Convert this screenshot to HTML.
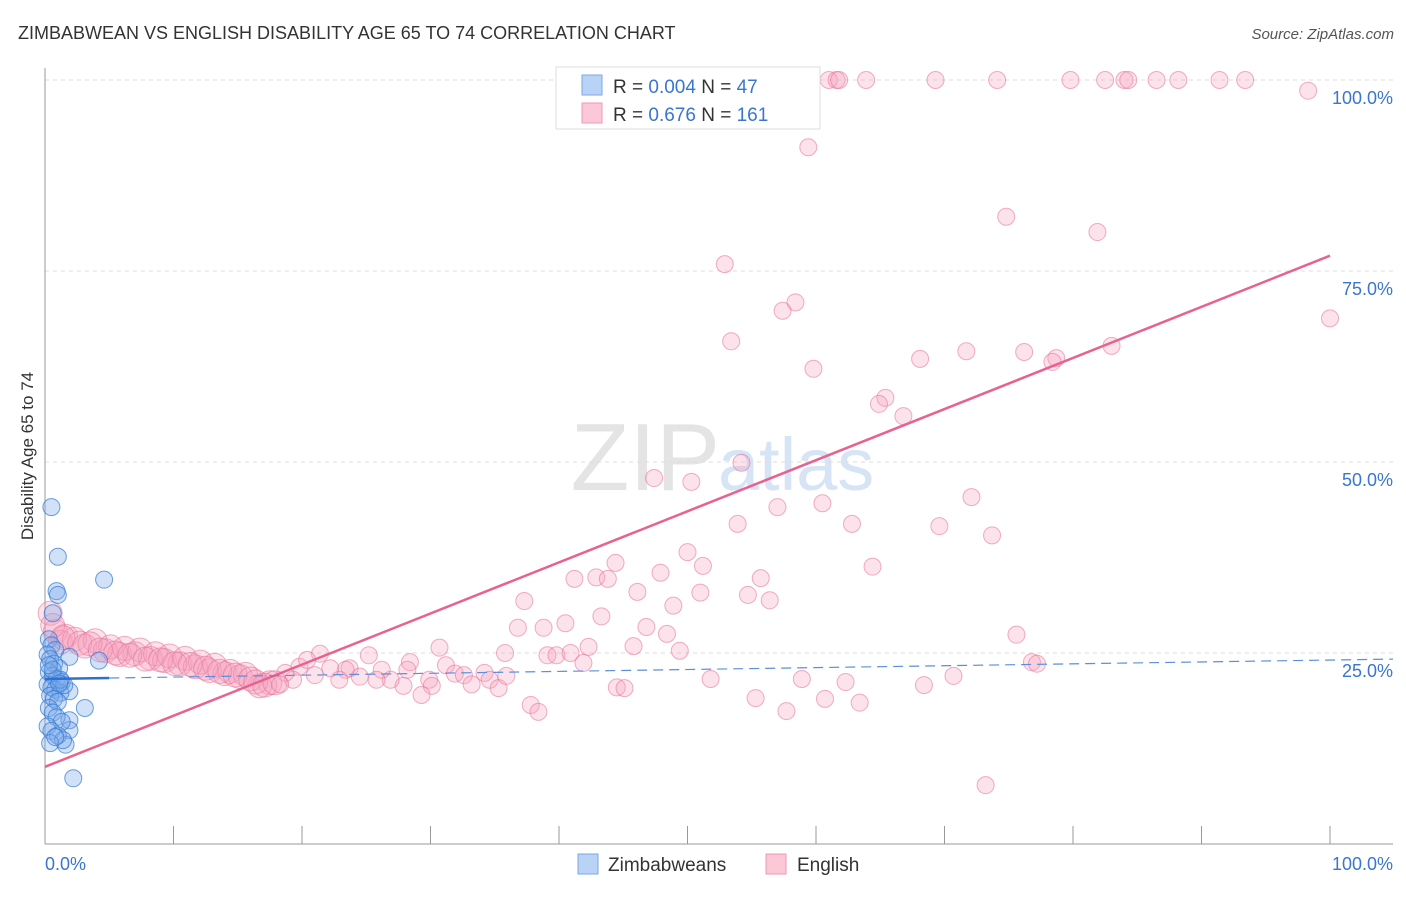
<!DOCTYPE html>
<html><head><meta charset="utf-8"><style>
body{margin:0;background:#fff;font-family:"Liberation Sans",sans-serif;}
svg text{font-family:"Liberation Sans",sans-serif;}
</style></head><body>
<svg id="chart" width="1406" height="892" xmlns="http://www.w3.org/2000/svg">
<text x="18" y="39" font-size="18" fill="#333">ZIMBABWEAN VS ENGLISH DISABILITY AGE 65 TO 74 CORRELATION CHART</text>
<text x="1394" y="39" font-size="15" fill="#555" text-anchor="end" font-style="italic">Source: ZipAtlas.com</text>
<text x="720" y="490" font-size="96" fill="#e4e4e4" text-anchor="end" font-family="Liberation Serif">ZIP</text>
<text x="718" y="490" font-size="74" fill="#d6e4f5">atlas</text>
<text transform="translate(33,456) rotate(-90)" font-size="17" fill="#333" text-anchor="middle">Disability Age 65 to 74</text>
<g id="grid"></g><g id="axes"></g><g id="pink"></g><g id="blue"></g><g id="lines"></g>
<g>
<rect x="556" y="67" width="264" height="62" fill="#fff" stroke="#ddd"/>
<rect x="582" y="75" width="20" height="20" fill="#b9d3f7" stroke="#7aa7e8"/>
<rect x="582" y="103" width="20" height="20" fill="#fcc7d6" stroke="#f09ab4"/>
<text x="613" y="93" font-size="19" fill="#333">R = <tspan fill="#3a75d0">0.004</tspan>   N =  <tspan fill="#3a75d0">47</tspan></text>
<text x="613" y="121" font-size="19" fill="#333">R =  <tspan fill="#3a75d0">0.676</tspan>   N = <tspan fill="#3a75d0">161</tspan></text>
</g>
<g>
<rect x="578" y="854" width="20" height="20" fill="#b9d3f7" stroke="#7aa7e8"/>
<text x="608" y="871" font-size="19" fill="#333">Zimbabweans</text>
<rect x="766" y="854" width="20" height="20" fill="#fcc7d6" stroke="#f09ab4"/>
<text x="797" y="871" font-size="19" fill="#333">English</text>
</g>
</svg>
<script>
const yTicks=[25,50,75,100];
const yTickLabels=["25.0%","50.0%","75.0%","100.0%"];
const xTickLabels=["0.0%","100.0%"];
const pinkX=[52.3,61.0,61.6,61.8,63.9,69.3,74.1,79.8,82.5,84.0,84.3,86.5,88.2,91.4,93.4,98.3,59.4,74.8,81.9,52.9,58.4,57.4,100,53.4,71.7,76.2,83.0,68.1,78.7,78.4,59.8,65.4,64.9,66.8,54.2,47.4,50.3,72.1,60.5,57.0,53.9,62.8,69.6,73.7,50.0,44.4,51.2,64.4,47.9,41.2,42.9,43.8,55.7,46.1,51.0,54.7,56.4,37.3,48.9,43.3,46.8,36.8,38.8,40.5,48.4,75.6,42.3,45.8,30.7,49.4,39.1,39.8,40.9,35.8,41.9,76.8,77.2,31.2,28.4,25.2,28.2,23.7,21.4,31.9,32.6,34.2,33.2,34.6,35.3,35.9,29.9,30.1,29.3,27.9,26.9,26.2,25.8,24.5,23.4,22.9,22.2,21.0,19.8,19.3,18.7,17.5,16.7,20.4,51.8,58.9,62.3,70.7,68.4,44.5,45.1,55.3,60.7,63.4,37.8,38.4,57.7,73.2,
0.4,0.8,1.2,1.6,2.3,3.1,3.9,4.7,5.1,5.8,6.2,7.0,7.4,8.2,8.6,9.3,9.7,10.5,10.9,11.7,12.1,12.8,13.2,14.0,14.4,15.2,15.6,0.6,1.4,2.7,3.5,4.3,5.5,6.6,7.8,9.0,10.1,11.3,12.5,13.6,14.8,16.0,16.4,17.1,17.9,18.3];
const pinkY=[100,100,100,100,100,100,100,100,100,100,100,100,100,100,100,98.6,91.2,82.1,80.1,75.9,70.9,69.8,68.8,65.8,64.5,64.4,65.2,63.5,63.6,63.1,62.2,58.4,57.6,56.0,49.9,47.9,47.4,45.4,44.6,44.1,41.9,41.9,41.6,40.4,38.2,36.8,36.4,36.3,35.5,34.7,34.9,34.7,34.8,33.0,32.9,32.6,31.9,31.8,31.2,29.8,28.4,28.3,28.3,28.9,27.5,27.4,25.8,25.9,25.7,25.3,24.7,24.7,25.0,25.0,23.7,23.8,23.6,23.4,23.8,24.7,22.8,23.0,24.9,22.3,22.1,22.4,20.9,21.5,20.4,22.0,21.5,20.7,19.5,20.7,21.5,22.8,21.5,21.9,22.8,21.5,23.0,22.1,23.2,21.5,22.4,21.1,20.7,24.1,21.6,21.6,21.2,22.0,20.8,20.5,20.4,19.1,19.0,18.5,18.2,17.3,17.4,7.7,
30.2,27.8,26.4,27.2,26.8,25.9,26.6,25.3,25.8,24.8,25.6,24.9,25.4,24.3,24.9,24.0,24.6,23.6,24.3,23.2,23.8,22.7,23.4,22.3,22.6,21.9,22.2,28.6,27.0,26.3,26.2,25.4,25.0,24.7,24.2,24.1,23.6,23.5,23.0,22.6,22.1,21.6,21.2,20.8,21.1,20.9];
const blueX=[0.5,1.0,4.6,0.9,1.0,0.6,1.9,4.2,1.9,3.1,2.2,1.9,1.9,1.6,0.3,0.5,0.8,0.2,0.4,0.7,1.1,0.3,0.6,0.9,1.3,0.2,0.5,0.8,1.2,0.4,0.7,1.0,1.5,0.3,0.6,0.9,1.3,0.2,0.5,1.0,1.4,0.4,0.8,1.2,0.6,1.1,0.3];
const blueY=[44.1,37.6,34.6,33.1,32.6,30.2,24.5,24.0,20.0,17.8,8.6,16.2,14.9,13.0,26.8,26.0,25.4,24.8,24.2,23.6,23.0,22.5,22.0,21.6,21.2,20.9,20.5,20.2,19.8,19.4,19.0,18.6,20.8,17.8,17.2,16.6,16.0,15.4,14.8,14.2,13.6,13.2,14.0,21.5,22.8,21.0,23.4];
const pinkTrend=[10.1,77.0];
const blueTrend=[21.6,24.2];
const NS="http://www.w3.org/2000/svg";
const X=v=>45+v*12.85, Y=v=>844-v*7.64;
function mk(tag,attrs,parent){const e=document.createElementNS(NS,tag);for(const k in attrs)e.setAttribute(k,attrs[k]);document.getElementById(parent).appendChild(e);return e;}
yTicks.forEach((t,i)=>{
 const g=mk('line',{x1:45,x2:1393,y1:Y(t),y2:Y(t),stroke:'#ddd','stroke-dasharray':'4,4'},'grid');
 
 
 const l=mk('text',{x:1393,y:Y(t)+24,'font-size':18,fill:'#3a75d0','text-anchor':'end'},'grid');
 l.textContent=yTickLabels[i];
 
 
});
const ax=mk('line',{x1:45,x2:45,y1:68,y2:844,stroke:'#999'},'axes');


const axx=mk('line',{x1:45,x2:1393,y1:844,y2:844,stroke:'#999'},'axes');


for(let i=0;i<=10;i++){const t=mk('line',{x1:X(i*10),x2:X(i*10),y1:826,y2:844,stroke:'#999'},'axes');
 
 }
[[0,'start',45],[100,'end',1393]].forEach((d,i)=>{const t=mk('text',{x:d[2],y:870,'font-size':18,fill:'#3a75d0','text-anchor':d[1]},'axes');t.textContent=xTickLabels[i];
 
 });
pinkX.forEach((x,i)=>{const r=(x<18&&pinkY[i]<31)?12:8.5;
 const c=mk('circle',{cx:X(x),cy:Y(pinkY[i]),r:r,fill:'rgba(246,160,188,0.3)',stroke:'rgba(230,110,150,0.55)','stroke-width':1},'pink');
 
 });
blueX.forEach((x,i)=>{const c=mk('circle',{cx:X(x),cy:Y(blueY[i]),r:8.5,fill:'rgba(120,170,235,0.35)',stroke:'rgba(50,120,210,0.7)','stroke-width':1},'blue');
 
 });
const pl=mk('line',{x1:X(0),y1:Y(pinkTrend[0]),x2:X(100),y2:Y(pinkTrend[1]),stroke:'#e8628f','stroke-width':2.5},'lines');


const bs=(blueTrend[1]-blueTrend[0])/104.9;
const bl1=mk('line',{x1:X(0),y1:Y(blueTrend[0]),x2:X(5),y2:Y(blueTrend[0]+5*bs),stroke:'#2f6fd0','stroke-width':2.5},'lines');


const bl2=mk('line',{x1:X(5),y1:Y(blueTrend[0]+5*bs),x2:X(104.9),y2:Y(blueTrend[1]),stroke:'#5b8fdc','stroke-width':1.2,'stroke-dasharray':'10,6'},'lines');


</script>
</body></html>
